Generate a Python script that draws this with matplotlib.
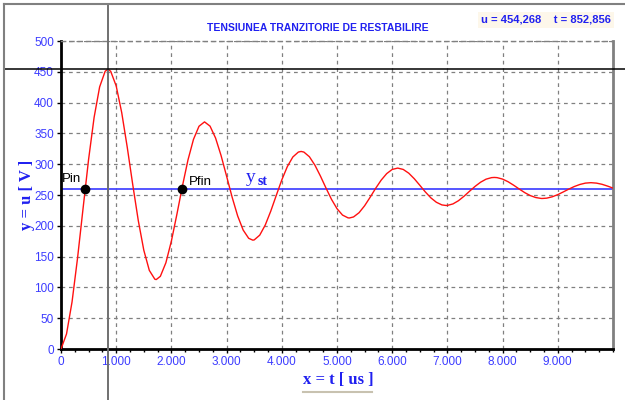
import matplotlib
matplotlib.use("Agg")
import matplotlib.pyplot as plt
from matplotlib.lines import Line2D

# ---- data ----
t_us = [0, 100, 200, 300, 400, 500, 600, 700, 800, 850, 900, 1000,
        1100, 1200, 1300, 1400, 1500, 1600, 1700, 1725, 1800, 1900, 2000,
        2100, 2200, 2300, 2400, 2500, 2600, 2700, 2800, 2900, 3000,
        3100, 3200, 3300, 3400, 3475, 3500, 3600, 3700, 3800, 3900, 4000,
        4100, 4200, 4300, 4350, 4400, 4500, 4600, 4700, 4800, 4900, 5000,
        5100, 5200, 5225, 5300, 5400, 5500, 5600, 5700, 5800, 5900, 6000,
        6100, 6200, 6300, 6400, 6500, 6600, 6700, 6800, 6900, 6975, 7000,
        7100, 7200, 7300, 7400, 7500, 7600, 7700, 7800, 7850, 7900, 8000,
        8100, 8200, 8300, 8400, 8500, 8600, 8700, 8725, 8800, 8900, 9000,
        9100, 9200, 9300, 9400, 9500, 9600, 9700, 9800, 9900, 10000]
u_volts = [0.0, 24.4, 76.4, 147.8, 228.5, 307.9, 376.1, 425.5, 450.9, 454.1, 450.9, 427.0,
           383.7, 327.6, 266.6, 208.5, 160.4, 127.6, 113.3, 112.7, 118.0, 140.0, 175.3,
           218.9, 264.6, 306.8, 340.3, 361.6, 368.7, 361.8, 342.5, 314.0, 280.5,
           246.5, 216.1, 193.1, 179.7, 176.7, 177.1, 184.8, 201.2, 223.8, 249.4, 274.5,
           296.1, 311.7, 319.7, 320.7, 319.7, 312.1, 298.4, 280.7, 261.4, 243.0, 227.8,
           217.4, 212.9, 212.7, 214.4, 221.3, 232.5, 246.3, 260.8, 274.1, 284.7, 291.5,
           293.7, 291.5, 285.4, 276.4, 265.8, 255.0, 245.4, 238.2, 233.9, 233.0, 233.1,
           235.5, 240.7, 247.9, 256.0, 263.9, 270.7, 275.7, 278.2, 278.5, 278.2, 275.8,
           271.5, 265.9, 259.8, 253.9, 249.1, 245.9, 244.4, 244.4, 244.9, 247.1, 250.6,
           255.0, 259.6, 263.8, 267.1, 269.3, 270.0, 269.3, 267.4, 264.5, 261.2]
u_steady = 259.0
points_t = [440, 2185]
points_label = ["Pin", "Pfin"]
cursor_t = 852.856
cursor_u = 454.268
x_ticks = [0, 1000, 2000, 3000, 4000, 5000, 6000, 7000, 8000, 9000]
x_tick_labels = ["0", "1.000", "2.000", "3.000", "4.000", "5.000",
                 "6.000", "7.000", "8.000", "9.000"]
y_ticks = [0, 50, 100, 150, 200, 250, 300, 350, 400, 450, 500]
title = "TENSIUNEA TRANZITORIE DE RESTABILIRE"
readout = "u = 454,268    t = 852,856"

W, H = 625, 400
def fx(px):
    return px / W
def fy(py):
    return 1 - py / H

BLUE = "#2020f0"
TICKBLUE = "#3c3cff"

fig = plt.figure(figsize=(6.25, 4.0), dpi=100)
fig.patch.set_facecolor("white")
L, R, T, B = 61, 613, 41, 349
ax = fig.add_axes([fx(L), fy(B), (R - L) / W, (B - T) / H])
ax.set_xlim(0, 10000)
ax.set_ylim(0, 500)

ax.grid(True, which="major", color="#808080", linestyle=(0, (3, 3)), linewidth=0.9)
ax.set_axisbelow(True)

ax.plot(t_us, u_volts, color="#ff1010", linewidth=1.0, zorder=3)
ax.axhline(u_steady, color="#4848ff", linewidth=1.3, zorder=2)

for tp, lab in zip(points_t, points_label):
    ax.plot([tp], [u_steady], "o", color="black", markersize=6, zorder=5)
ax.text(points_t[0] - 420, u_steady + 8, points_label[0], fontsize=9.5,
        color="black", family="Liberation Sans", va="bottom", ha="left")
ax.text(points_t[1] + 130, u_steady + 3, points_label[1], fontsize=9.5,
        color="black", family="Liberation Sans", va="bottom", ha="left")
ax.text(3350, u_steady + 6, "y", fontsize=14, color=BLUE, family="Liberation Serif",
        va="bottom", ha="left")
ax.text(3560, u_steady + 3, "st", fontsize=10, color=BLUE, family="Liberation Serif",
        fontweight="bold", va="bottom", ha="left")

# cursor cross-hair
ax.axvline(cursor_t, ymin=(B - H) / (B - T), ymax=(B - 4) / (B - T),
           color="#707070", linewidth=1.4, clip_on=False, zorder=6)
ax.axhline(cursor_u, xmin=(4 - L) / (R - L), xmax=(W - L) / (R - L),
           color="black", linewidth=1.1, clip_on=False, zorder=6)

ax.set_xticks(x_ticks)
ax.set_xticklabels(x_tick_labels)
ax.set_xticks(range(0, 10001, 250), minor=True)
ax.set_yticks(y_ticks)
ax.tick_params(axis="both", which="major", length=3, width=1, color="black",
               labelcolor=TICKBLUE, labelsize=8.5, pad=2)
ax.tick_params(axis="x", which="minor", length=2, width=1, color="black")
for lab in ax.get_xticklabels() + ax.get_yticklabels():
    lab.set_family("Liberation Sans")

ax.spines["left"].set_linewidth(2)
ax.spines["left"].set_color("black")
ax.spines["bottom"].set_linewidth(2)
ax.spines["bottom"].set_color("black")
ax.spines["right"].set_linewidth(2)
ax.spines["right"].set_color("#808080")
ax.spines["top"].set_linewidth(1)
ax.spines["top"].set_color("#808080")
ax.spines["top"].set_linestyle((0, (3, 3)))

# titles and labels
fig.text(fx(318), fy(28), title, fontsize=7.5, fontweight="bold", color=BLUE,
         family="Liberation Sans", ha="center", va="center")
fig.text(fx(546), fy(20), readout, fontsize=8, fontweight="bold", color=BLUE,
         family="Liberation Sans", ha="center", va="center",
         bbox=dict(boxstyle="square,pad=0.3", facecolor="#fdf7ea", edgecolor="none"))
fig.text(fx(27), fy(195), "y = u [ V ]", fontsize=12, fontweight="bold", color=BLUE,
         family="Liberation Serif", rotation=90, ha="center", va="center")
fig.text(fx(338), fy(380), "x = t [ us ]", fontsize=12, fontweight="bold", color=BLUE,
         family="Liberation Serif", ha="center", va="center")
fig.add_artist(Line2D([fx(303), fx(372)], [fy(392), fy(392)], color="#c8c2b0",
                      linewidth=1.5, transform=fig.transFigure))

# outer frame
fig.add_artist(Line2D([fx(4), fx(4)], [fy(4), 0], color="#808080", linewidth=1.5,
                      transform=fig.transFigure))
fig.add_artist(Line2D([fx(4), 1], [fy(4), fy(4)], color="#808080", linewidth=1.5,
                      transform=fig.transFigure))

fig.savefig("out.png", dpi=100)
